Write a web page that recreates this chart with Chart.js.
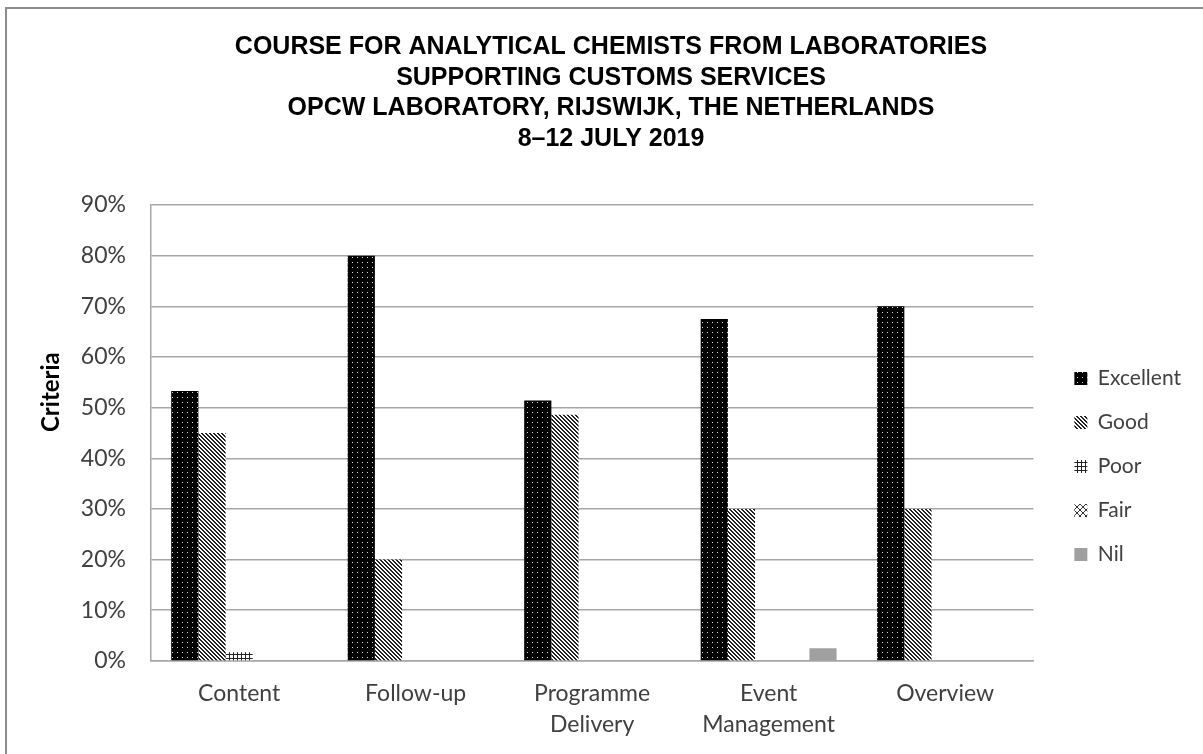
<!DOCTYPE html>
<html><head><meta charset="utf-8">
<script src="https://cdn.jsdelivr.net/npm/chart.js@4/dist/chart.umd.min.js"></script>
<style>html,body{margin:0;padding:0;background:#fff}#wrap{width:1203px;height:754px;position:relative}</style>
</head><body><div id="wrap"><canvas id="c" width="1203" height="754"></canvas></div>
<script>
const titleLines = ["COURSE FOR ANALYTICAL CHEMISTS FROM LABORATORIES","SUPPORTING CUSTOMS SERVICES","OPCW LABORATORY, RIJSWIJK, THE NETHERLANDS","8\u201312 JULY 2019"];
const categories = ["Content","Follow-up",["Programme","Delivery"],["Event","Management"],"Overview"];
const seriesNames = ["Excellent","Good","Poor","Fair","Nil"];
const excellent = [53.3, 80, 51.4, 67.5, 70];
const good = [45, 20, 48.6, 30, 30];
const poor = [1.7, 0, 0, 0, 0];
const fair = [0, 0, 0, 0, 0];
const nil = [0, 0, 0, 2.5, 0];
const yTicks = [0,10,20,30,40,50,60,70,80,90];
const yTitle = 'Criteria';

const canvas = document.getElementById('c');
const ctx = canvas.getContext('2d');
function tile(w,h,fn){const t=document.createElement('canvas');t.width=w;t.height=h;const g=t.getContext('2d');fn(g);return ctx.createPattern(t,'repeat');}
const pExcellent = tile(5,5,g=>{g.fillStyle='#000';g.fillRect(0,0,5,5);g.fillStyle='#d8d8d8';g.fillRect(2,2,1,1);});
const pGood = tile(4,4,g=>{g.fillStyle='#fff';g.fillRect(0,0,4,4);g.fillStyle='#222';for(let i=0;i<4;i++){g.fillRect(i,i,1,1);g.fillRect((i+1)%4,i,1,1);}});
const pPoor = tile(4,4,g=>{g.fillStyle='#fff';g.fillRect(0,0,4,4);g.fillStyle='#222';g.fillRect(1,0,1,4);g.fillRect(0,2,4,1);});
const pFair = tile(6,6,g=>{g.fillStyle='#fff';g.fillRect(0,0,6,6);g.fillStyle='#333';for(let i=0;i<6;i++){g.fillRect(i,i,1,1);g.fillRect(5-i,i,1,1);}});
const fills = [pExcellent,pGood,pPoor,pFair,'#a0a0a0'];
const dataArr = [excellent,good,poor,fair,nil];

const frame = {id:'frame',beforeDraw(ch){const c=ch.ctx;c.save();c.fillStyle='#fff';c.fillRect(0,0,ch.width,ch.height);c.strokeStyle='#8c8c8c';c.lineWidth=2;c.strokeRect(6,8,1220,780);c.restore();}};

new Chart(canvas,{
  type:'bar',
  data:{labels:categories,datasets:seriesNames.map((n,i)=>({label:n,data:dataArr[i],backgroundColor:fills[i],borderWidth:0,categoryPercentage:0.77,barPercentage:1}))},
  options:{
    responsive:false,animation:false,
    layout:{padding:{left:31,right:12,top:0,bottom:5}},
    plugins:{
      title:{display:true,text:titleLines,color:'#000',font:{family:'"Liberation Sans",sans-serif',size:25,weight:'bold',lineHeight:1.22},padding:{top:32,bottom:51}},
      legend:{position:'right',title:{display:true,text:'',font:{size:10,lineHeight:1},padding:{top:174,bottom:0}},
        labels:{color:'#404040',font:{family:'Lato, sans-serif',size:21},boxWidth:13,boxHeight:13,padding:23}},
      tooltip:{enabled:false}
    },
    scales:{
      x:{grid:{display:false},border:{display:true,color:'#a6a6a6',width:1.5},ticks:{color:'#404040',font:{family:'Lato, sans-serif',size:23,lineHeight:1.35},padding:9,maxRotation:0,autoSkip:false}},
      y:{min:0,max:90,afterBuildTicks(s){s.ticks=yTicks.map(v=>({value:v}));},grid:{color:'#a6a6a6',lineWidth:1.5,drawTicks:false},border:{display:true,color:'#a6a6a6',width:1.5},
         ticks:{color:'#404040',font:{family:'Lato, sans-serif',size:23},padding:25,callback:v=>v+'%'},
         title:{display:true,text:'\u00A0'.repeat(14)+yTitle,color:'#000',font:{family:'Lato, sans-serif',size:24,weight:'bold',lineHeight:1.2},padding:{top:6,bottom:-10}}},
      gap:{position:'right',display:true,grid:{display:false},border:{display:false},ticks:{display:false},afterFit(s){s.width=18;}}
    }
  },
  plugins:[frame]
});
</script></body></html>
